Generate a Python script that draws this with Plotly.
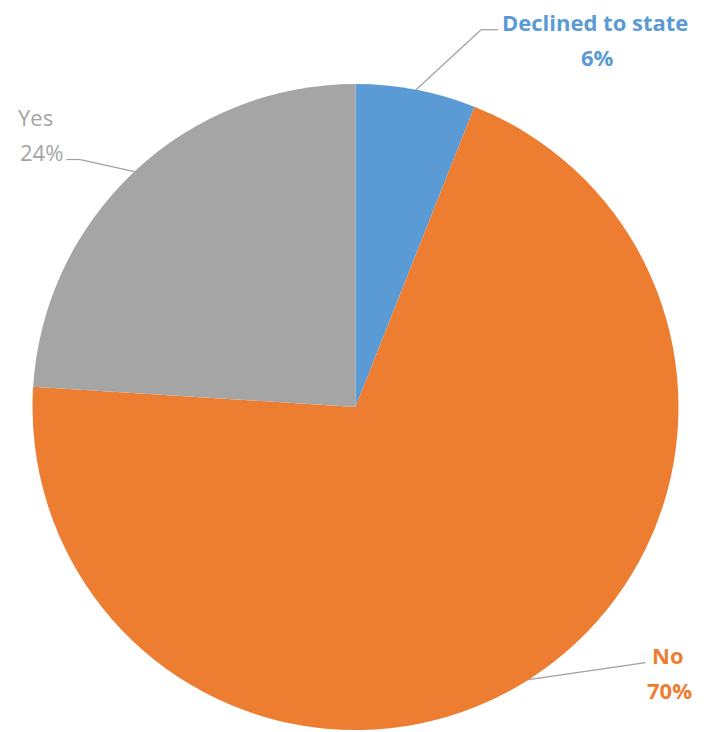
import math
import plotly.graph_objects as go

# Survey response shares
categories = ["Declined to state", "No", "Yes"]
values = [6, 70, 24]
colors = ["#5B9BD5", "#ED7D31", "#A5A5A5"]

W, H = 711, 732
cx, cy, r = 355.5, 407.0, 323.0  # pie centre and radius in pixels

fig = go.Figure(go.Pie(
    labels=categories,
    values=values,
    sort=False,
    direction="clockwise",
    rotation=0,
    marker=dict(colors=colors, line=dict(width=0)),
    textinfo="none",
    hoverinfo="label+percent",
    showlegend=False,
    domain=dict(x=[(cx - r) / W, (cx + r) / W], y=[(H - cy - r) / H, (H - cy + r) / H]),
))

def px(x, y):
    return x / W, 1 - y / H

# Per-slice label layout: leader elbow offset from the slice edge, tail length,
# and offsets of the name / percent text from the end of the leader line.
label_cfg = {
    "Declined to state": dict(elbow=(65, -60), tail=17, bold=True,
                              name=(2, -7.5, "left"), pct=(99, 27.5, "center")),
    "No": dict(elbow=(117, -17), tail=0, bold=True,
               name=(22, -7.5, "center"), pct=(23.5, 27.5, "center")),
    "Yes": dict(elbow=(-54, -12), tail=-14, bold=False,
                name=(-50, -42.5, "left"), pct=(-1, -7.5, "right")),
}

total = sum(values)
start = 0.0
shapes, annotations = [], []
for cat, val, col in zip(categories, values, colors):
    mid = start + val / total * 180.0
    start += val / total * 360.0
    a = math.radians(mid)
    ex, ey = cx + r * math.sin(a), cy - r * math.cos(a)
    cfg = label_cfg[cat]
    bx, by = ex + cfg["elbow"][0], ey + cfg["elbow"][1]
    tx = bx + cfg["tail"]
    for (x0, y0, x1, y1) in [(ex, ey, bx, by), (bx, by, tx, by)]:
        p0, p1 = px(x0, y0), px(x1, y1)
        shapes.append(dict(type="line", xref="paper", yref="paper",
                           x0=p0[0], y0=p0[1], x1=p1[0], y1=p1[1],
                           line=dict(color="#A0A0A0", width=1.2)))
    pct = f"{round(val / total * 100)}%"
    for text, (dx, dy, xa) in [(cat, cfg["name"]), (pct, cfg["pct"])]:
        ax, ay = px(tx + dx, by + dy)
        annotations.append(dict(
            xref="paper", yref="paper", x=ax, y=ay, text=text,
            showarrow=False, xanchor=xa, yanchor="middle",
            font=dict(family="Open Sans", size=22, color=col,
                      weight="bold" if cfg["bold"] else 500)))

fig.update_layout(
    width=W, height=H,
    margin=dict(l=0, r=0, t=0, b=0),
    paper_bgcolor="white",
    plot_bgcolor="white",
    shapes=shapes,
    annotations=annotations,
)

fig.write_html("out.html")
